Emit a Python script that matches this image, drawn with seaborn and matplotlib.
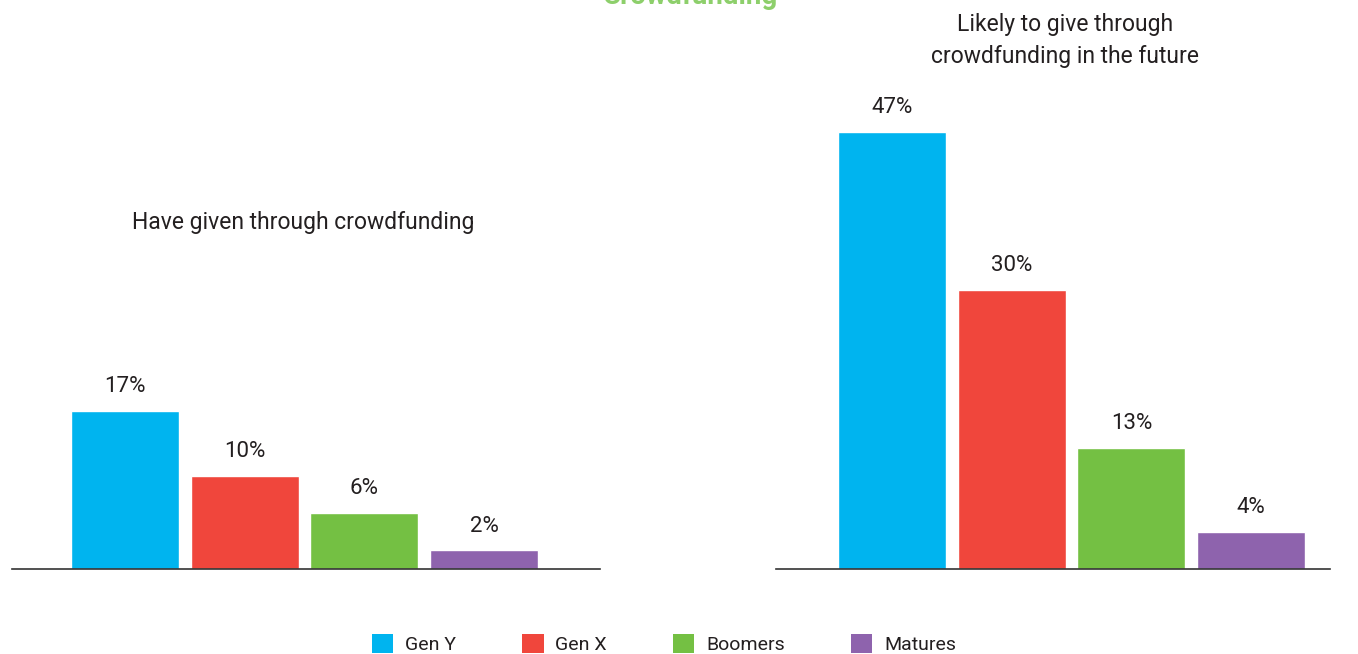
import numpy as np
import pandas as pd
import matplotlib
matplotlib.use("Agg")
import matplotlib.pyplot as plt
import seaborn as sns
from matplotlib.patches import Patch

# data
groups = ["Gen Y", "Gen X", "Boomers", "Matures"]
have_given = [17, 10, 6, 2]
likely_future = [47, 30, 13, 4]
palette = ["#00b4ef", "#f0463c", "#74c043", "#8e63ad"]

sns.set_theme(style="white")
plt.rcParams["font.family"] = ["Roboto", "DejaVu Sans"]

W, H = 1358, 654
fig = plt.figure(figsize=(W / 100, H / 100), dpi=100)


def px_axes(x0, x1, ytop, ybot):
    return fig.add_axes([x0 / W, (H - ybot) / H, (x1 - x0) / W, (ybot - ytop) / H])


ax1 = px_axes(12, 600, 100, 569)
ax2 = px_axes(776, 1330, 100, 569)

panels = [
    (ax1, have_given, (-0.942, 3.967)),
    (ax2, likely_future, (-0.967, 3.658)),
]

for ax, vals, xl in panels:
    df = pd.DataFrame({"group": groups, "value": vals})
    sns.barplot(data=df, x="group", y="value", hue="group", palette=palette,
                width=0.9, legend=False, saturation=1, ax=ax)
    for c in ax.containers:
        ax.bar_label(c, fmt="%d%%", padding=10, fontsize=16, color="#231f20")
    ax.set_xlim(*xl)
    ax.set_ylim(0, 50.4)
    ax.set_xlabel("")
    ax.set_ylabel("")
    ax.set_xticks([])
    ax.set_yticks([])
    for s in ["top", "left", "right"]:
        ax.spines[s].set_visible(False)
    ax.spines["bottom"].set_color("#333333")
    ax.spines["bottom"].set_linewidth(1.2)

fig.text(303 / W, 1 - 223 / H, "Have given through crowdfunding", ha="center", va="center",
         fontsize=16.5, color="#231f20")
fig.text(1065 / W, 1 - 41 / H, "Likely to give through\ncrowdfunding in the future", ha="center",
         va="center", fontsize=16.5, color="#231f20", linespacing=1.5)

fig.text(690 / W, 1 - 4 / H, "Crowdfunding", ha="center", va="baseline", fontsize=20,
         fontweight="bold", color="#8dcf6b")

handles = [Patch(facecolor=c, edgecolor="none") for c in palette]
fig.legend(handles, groups, loc="center", bbox_to_anchor=(664 / W, 1 - 644 / H), ncol=4,
           frameon=False, fontsize=14, handlelength=1.1, handleheight=1.1,
           handletextpad=0.6, columnspacing=3.4, labelcolor="#231f20")

fig.savefig("out.png", dpi=100)
